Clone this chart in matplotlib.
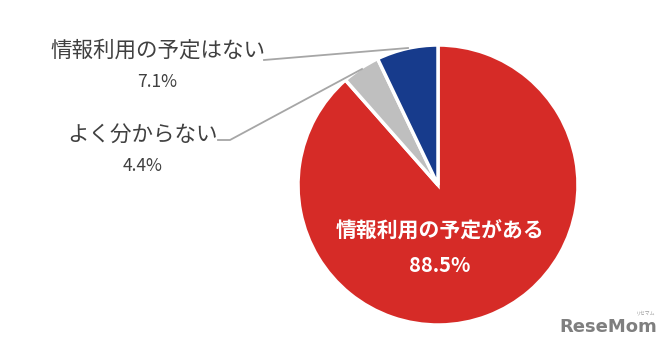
import matplotlib
matplotlib.use("Agg")
import matplotlib.pyplot as plt

plt.rcParams['font.family'] = ['Noto Sans CJK JP', 'DejaVu Sans']

labels = ["情報利用の予定がある", "よく分からない", "情報利用の予定はない"]
values = [88.5, 4.4, 7.1]
colors = ["#D62B27", "#BFBFBF", "#173B8C"]

W, H = 670, 352
fig = plt.figure(figsize=(W / 100, H / 100), dpi=100)
ax = fig.add_axes([0, 0, 1, 1])

cx, cy, r = 438, H - 185, 140
ax.pie(values, colors=colors, startangle=90, counterclock=False,
       center=(cx, cy), radius=r, frame=True,
       wedgeprops=dict(edgecolor="white", linewidth=2.5))
ax.set_xlim(0, W)
ax.set_ylim(0, H)
ax.set_aspect("equal")
ax.axis("off")

# inside label
ax.text(440, H - 231, labels[0], color="white", fontsize=15, fontweight="bold",
        ha="center", va="center")
ax.text(440, H - 266, f"{values[0]}%", color="white", fontsize=14.5, fontweight="bold",
        ha="center", va="center")

# outside labels
grey = "#404040"
ax.text(158, H - 51, labels[2], color=grey, fontsize=15.5, ha="center", va="center")
ax.text(157, H - 82, f"{values[2]}%", color=grey, fontsize=12.5, ha="center", va="center")
ax.text(143, H - 135, labels[1], color=grey, fontsize=15.5, ha="center", va="center")
ax.text(143, H - 166, f"{values[1]}%", color=grey, fontsize=12.5, ha="center", va="center")

# leader lines
ax.plot([264, 408], [H - 60, H - 48], color="#A6A6A6", lw=1.3)
ax.plot([218, 230, 362], [H - 140, H - 140, H - 69], color="#A6A6A6", lw=1.3)

# watermark
ax.text(608, H - 327, "ReseMom", color="#7F7F7F", fontsize=13, fontweight="bold",
        ha="center", va="center", family="DejaVu Sans")
ax.text(646, H - 313, "リセマム", color="#9A9A9A", fontsize=3.5, ha="center", va="center")

fig.savefig("out.png", dpi=100)
